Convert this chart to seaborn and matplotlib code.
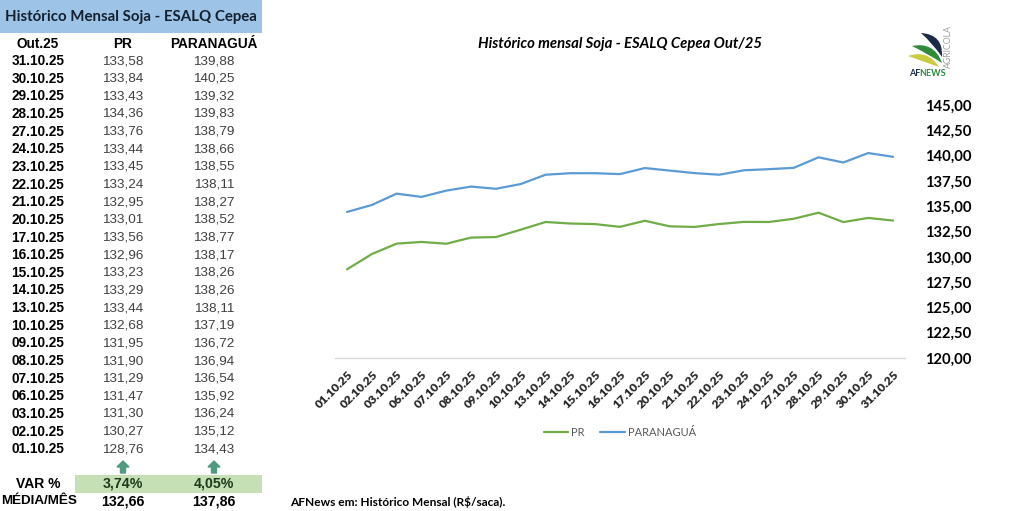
import matplotlib
matplotlib.use("Agg")
import matplotlib.pyplot as plt
import matplotlib.patches as mpatches
from matplotlib.path import Path
import seaborn as sns
import pandas as pd
import numpy as np

# Data (Out/25), chronological
datas = ['01.10.25', '02.10.25', '03.10.25', '06.10.25', '07.10.25', '08.10.25',
         '09.10.25', '10.10.25', '13.10.25', '14.10.25', '15.10.25', '16.10.25',
         '17.10.25', '20.10.25', '21.10.25', '22.10.25', '23.10.25', '24.10.25',
         '27.10.25', '28.10.25', '29.10.25', '30.10.25', '31.10.25']
pr = [128.76, 130.27, 131.30, 131.47, 131.29, 131.90, 131.95, 132.68, 133.44,
      133.29, 133.23, 132.96, 133.56, 133.01, 132.95, 133.24, 133.45, 133.44,
      133.76, 134.36, 133.43, 133.84, 133.58]
paranagua = [134.43, 135.12, 136.24, 135.92, 136.54, 136.94, 136.72, 137.19, 138.11,
             138.26, 138.26, 138.17, 138.77, 138.52, 138.27, 138.11, 138.55, 138.66,
             138.79, 139.83, 139.32, 140.25, 139.88]
var_pct = ['3,74%', '4,05%']
media_mes = ['132,66', '137,86']
y_ticks = [120, 122.5, 125, 127.5, 130, 132.5, 135, 137.5, 140, 142.5, 145]

GREEN = '#70ad47'
BLUE = '#5b9bd5'


def br(v):
    return f'{v:.2f}'.replace('.', ',')


sns.set_theme(style='white')
plt.rcParams['font.family'] = ['Liberation Sans', 'DejaVu Sans']

W, H = 1024, 511
fig = plt.figure(figsize=(W / 100, H / 100), dpi=100)
fig.patch.set_facecolor('white')


def fx(px):
    return px / W


def fy(py):
    return 1 - py / H


# ---------------- table on the left ----------------
fig.patches.append(mpatches.Rectangle((0, fy(33)), fx(262), 33 / H,
                                      transform=fig.transFigure, facecolor='#9dc3e6',
                                      edgecolor='none', zorder=0))
fig.text(fx(131), fy(17), 'Histórico Mensal Soja - ESALQ Cepea', family='Lato',
         fontweight='bold', fontsize=10.8, color='#14202e', ha='center', va='center')

col_x = [38, 123, 214]
fig.text(fx(col_x[0]), fy(44), 'Out.25', fontweight='bold', fontsize=9.8, ha='center', va='center', color='black')
fig.text(fx(col_x[1]), fy(44), 'PR', fontweight='bold', fontsize=9.8, ha='center', va='center', color='black')
fig.text(fx(col_x[2]), fy(44), 'PARANAGUÁ', fontweight='bold', fontsize=9.8, ha='center', va='center', color='black')

n = len(datas)
for i in range(n):
    k = n - 1 - i
    yy = 61 + i * 17.65
    fig.text(fx(col_x[0]), fy(yy), datas[k], fontweight='bold', fontsize=9.8,
             ha='center', va='center', color='black')
    fig.text(fx(col_x[1]), fy(yy), br(pr[k]), fontsize=9.7, ha='center', va='center', color='#404040')
    fig.text(fx(col_x[2]), fy(yy), br(paranagua[k]), fontsize=9.7, ha='center', va='center', color='#404040')

# arrows up
for cx in col_x[1:]:
    arr = mpatches.FancyArrow(fx(cx), fy(473), 0, 12 / H, width=fx(5), head_width=fx(12),
                              head_length=6 / H, length_includes_head=True,
                              transform=fig.transFigure, color='#4f9a80', zorder=2)
    fig.patches.append(arr)

fig.patches.append(mpatches.Rectangle((fx(75), fy(493)), fx(187), 18 / H,
                                      transform=fig.transFigure, facecolor='#c5e0b4',
                                      edgecolor='none', zorder=0))
fig.text(fx(col_x[0]), fy(484), 'VAR %', fontweight='bold', fontsize=10, ha='center', va='center', color='black')
fig.text(fx(39), fy(501), 'MÉDIA/MÊS', fontweight='bold', fontsize=9.6, ha='center', va='center', color='black')
for cx, v, m in zip(col_x[1:], var_pct, media_mes):
    fig.text(fx(cx), fy(484), v, fontweight='bold', fontsize=10.2, ha='center', va='center', color='#1e3a1e')
    fig.text(fx(cx), fy(501), m, fontweight='bold', fontsize=10.2, ha='center', va='center', color='black')

fig.text(fx(290), fy(502), r'AFNews em: Histórico Mensal (R\$/saca).', family='Lato',
         fontweight='bold', fontsize=8.6, ha='left', va='center', color='black')

# ---------------- line chart ----------------
left, right, top, bottom = 334.6, 905.4, 105, 358
ax = fig.add_axes([fx(left), fy(bottom), fx(right - left), (bottom - top) / H])

pos = np.arange(n)
df = pd.DataFrame({'pos': np.concatenate([pos, pos]),
                   'valor': pr + paranagua,
                   'serie': ['PR'] * n + ['PARANAGUÁ'] * n})
sns.lineplot(data=df, x='pos', y='valor', hue='serie', palette={'PR': GREEN, 'PARANAGUÁ': BLUE},
             sort=False, linewidth=1.6, ax=ax, legend=False)

ax.set_xlim(-0.5, n - 0.5)
ax.set_ylim(120, 145)
ax.set_yticks(y_ticks)
ax.set_yticklabels([br(t) for t in y_ticks], family='Lato', fontweight='bold', fontsize=10.6)
ax.yaxis.tick_right()
ax.tick_params(axis='y', length=0, pad=14, colors='black')
ax.set_xticks(pos)
ax.set_xticklabels(datas, rotation=45, ha='right', rotation_mode='anchor',
                   family='Lato', fontweight='heavy', fontsize=8.7)
ax.tick_params(axis='x', length=0, pad=8)
ax.set_xlabel('')
ax.set_ylabel('')
for s in ['top', 'left', 'right']:
    ax.spines[s].set_visible(False)
ax.spines['bottom'].set_color('#d9d9d9')
ax.spines['bottom'].set_linewidth(1)
ax.set_facecolor('white')
ax.grid(False)

fig.text(fx(620), fy(44), 'Histórico mensal Soja - ESALQ Cepea Out/25', family='Lato',
         fontweight='bold', fontstyle='italic', fontsize=10.7, ha='center', va='center', color='black')

handles = [plt.Line2D([], [], color=GREEN, lw=1.6), plt.Line2D([], [], color=BLUE, lw=1.6)]
fig.legend(handles, ['PR', 'PARANAGUÁ'], loc='center', bbox_to_anchor=(fx(620), fy(432)),
           ncol=2, frameon=False, prop={'family': 'Lato', 'size': 8},
           labelcolor='#595959', handlelength=2.2, columnspacing=1.4, handletextpad=0.3)

# ---------------- logo ----------------
lax = fig.add_axes([fx(900), fy(85), fx(60), 60 / H])
lax.set_xlim(0, 60)
lax.set_ylim(0, 60)
lax.axis('off')


def leaf(ax_, p0, p1, b1, b2, color):
    p0 = np.array(p0, float)
    p1 = np.array(p1, float)
    d = p1 - p0
    nrm = np.array([-d[1], d[0]]) / np.hypot(*d)
    if nrm[0] < 0:
        nrm = -nrm
    mid = (p0 + p1) / 2
    verts = [p0, mid + b1 * nrm, p1, mid + b2 * nrm, p0]
    codes = [Path.MOVETO, Path.CURVE3, Path.CURVE3, Path.CURVE3, Path.CURVE3]
    ax_.add_patch(mpatches.PathPatch(Path(verts, codes), facecolor=color, edgecolor='none'))


leaf(lax, (21, 52), (42, 28), 16, 2, '#1c2a4a')
leaf(lax, (12, 39), (42, 22), 15, 1, '#2f8a3c')
leaf(lax, (8, 29), (39, 18), 13, 0, '#c9cc3f')
lax.text(9, 11, 'AF', family='Lato', fontweight='bold', fontsize=6.5, color='#1c2a4a', va='center')
lax.text(19, 11, 'NEWS', family='Lato', fontweight='bold', fontsize=6.5, color='#2f8a3c', va='center')
lax.text(48, 38, 'AGRÍCOLA', family='Lato', fontsize=6.3, color='#a0a0a0', rotation=90,
         ha='center', va='center')

fig.savefig('out.png', dpi=100, facecolor='white')
